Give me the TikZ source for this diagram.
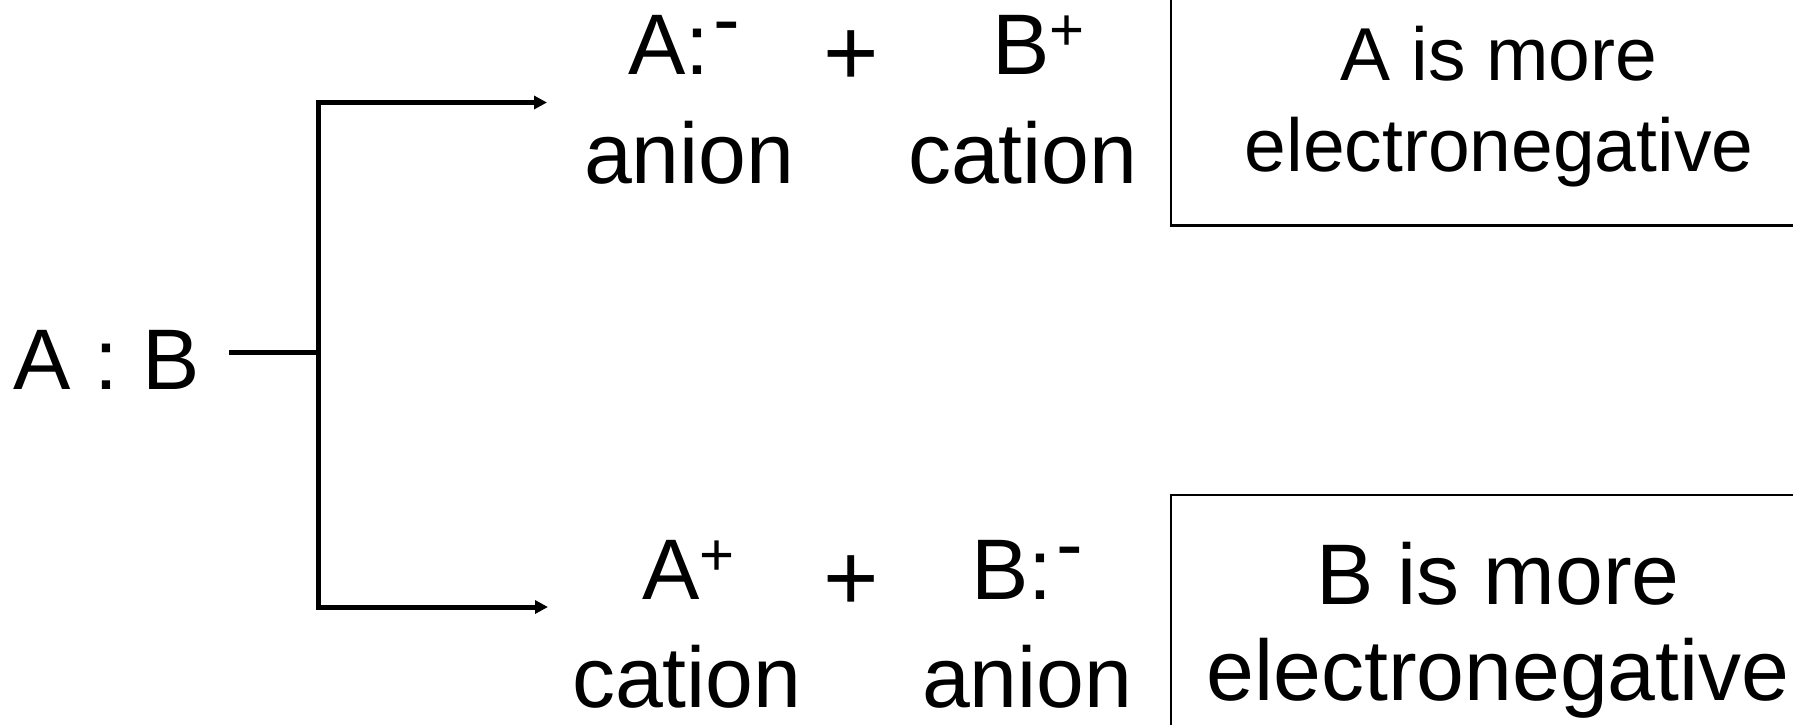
\documentclass[tikz,border=0pt]{standalone}
\usepackage{fontspec}
\setmainfont{Liberation Sans}
\usetikzlibrary{arrows.meta}

\newcommand{\upplus}{\raisebox{12pt}[0pt][0pt]{\fontsize{30}{30}\selectfont +}}
\newcommand{\upminus}{\kern2.25pt\raisebox{14pt}[0pt][0pt]{\fontsize{40}{40}\selectfont -}}

\begin{document}
\begin{tikzpicture}[
                x=0.5pt, y=-0.5pt,
                every node/.style={inner sep=0pt, outer sep=0pt},
                ion/.style={font=\fontsize{43}{52}\selectfont, anchor=base west},
                plus/.style={font=\fontsize{47.5}{52}\selectfont, anchor=base},
                note/.style={draw=black, line width=1.2pt, align=center},
                wire/.style={line width=2.5pt},
                arr/.style={wire, -{Triangle[length=6.5pt, width=6.5pt]}},
            ]
            \useasboundingbox (0,0) rectangle (1793,724);
            \clip (0,0) rectangle (1793,724);

            \node[ion] (bond) at (13,389) {A : B};
            \coordinate (split) at (318.5,352);
            \coordinate (upper) at (547,102.5);
            \coordinate (lower) at (548,607);

            % A takes the pair
            \node[ion] (anion1) at (628,74) {A:\upminus};
            \node[plus] (plus1) at (851,85) {+};
            \node[ion] (cation1) at (992,74) {B\upplus};
            \node[ion] (anionlbl1) at (584,183) {anion};
            \node[ion] (cationlbl1) at (908,183) {cation};
            \node[note, minimum width=328pt, minimum height=118.5pt, font=\fontsize{37.5}{45.75}\selectfont] (moreA) at (1499,106.8) {A is more\\electronegative};

            % B takes the pair
            \node[ion] (cation2) at (642,599) {A\upplus};
            \node[plus] (plus2) at (851,610) {+};
            \node[ion] (anion2) at (971,599) {B:\upminus};
            \node[ion] (cationlbl2) at (572,707) {cation};
            \node[ion] (anionlbl2) at (922,707) {anion};
            \node[note, minimum width=327pt, minimum height=135.2pt, font=\fontsize{43}{48}\selectfont] (moreB) at (1498,630.2) {B is more\\electronegative};

            \draw[wire] ([xshift=15pt]bond.east |- split) -- (split);
            \draw[arr] (split) |- (upper);
            \draw[arr] (split) |- (lower);
        \end{tikzpicture}
\end{document}
